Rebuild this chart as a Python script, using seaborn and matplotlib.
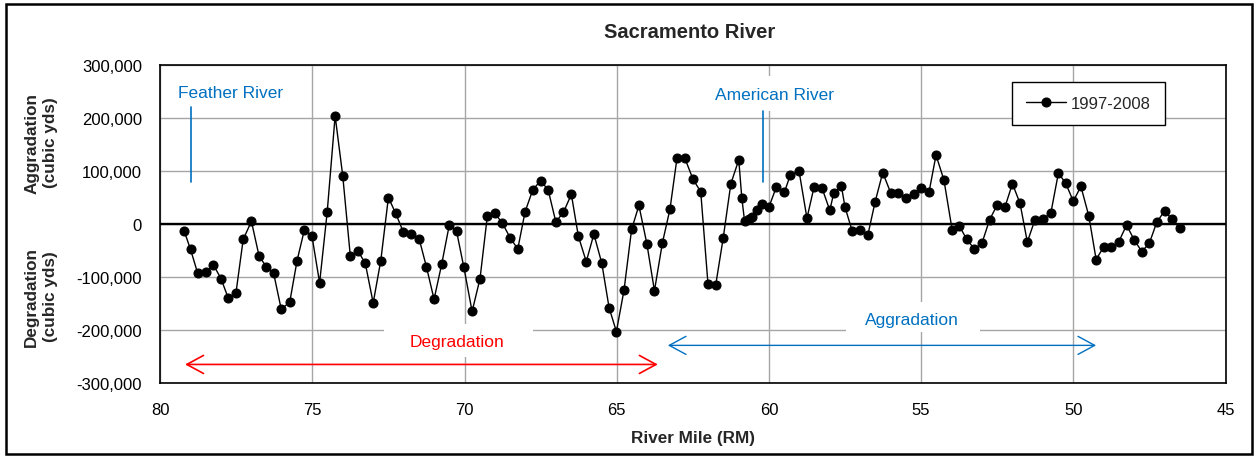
import matplotlib
matplotlib.use("Agg")
import matplotlib.pyplot as plt
from matplotlib.patches import Rectangle
from matplotlib.ticker import FuncFormatter
import numpy as np
import pandas as pd
import seaborn as sns

# River mile of each surveyed reach and its net volume change 1997-2008 (cubic yards)
river_mile = [
    79.21, 79.00, 78.77, 78.50, 78.25, 78.00, 77.76, 77.51, 77.27, 77.00,
    76.75, 76.51, 76.27, 76.02, 75.74, 75.50, 75.26, 75.01, 74.76, 74.51,
    74.25, 74.00, 73.75, 73.50, 73.26, 73.00, 72.75, 72.50, 72.26, 72.01,
    71.76, 71.49, 71.25, 71.00, 70.75, 70.50, 70.26, 70.02, 69.75, 69.49,
    69.25, 69.00, 68.76, 68.50, 68.25, 68.01, 67.76, 67.50, 67.25, 67.00,
    66.75, 66.49, 66.26, 66.00, 65.75, 65.49, 65.25, 65.01, 64.76, 64.51,
    64.27, 64.01, 63.76, 63.50, 63.25, 63.02, 62.76, 62.49, 62.24, 62.00,
    61.75, 61.50, 61.25, 60.99, 60.89, 60.80, 60.65, 60.54, 60.39, 60.24,
    60.00, 59.76, 59.49, 59.30, 59.01, 58.75, 58.52, 58.25, 58.00, 57.87,
    57.62, 57.50, 57.26, 57.01, 56.75, 56.51, 56.26, 56.00, 55.75, 55.51,
    55.24, 54.99, 54.74, 54.51, 54.25, 53.98, 53.74, 53.50, 53.25, 53.00,
    52.75, 52.50, 52.24, 52.00, 51.75, 51.51, 51.26, 51.00, 50.74, 50.49,
    50.25, 50.00, 49.75, 49.49, 49.25, 49.00, 48.75, 48.51, 48.25, 48.00,
    47.75, 47.50, 47.26, 47.00, 46.76, 46.50,
]
volume_change = [
    -13000, -48000, -92000, -91000, -77000, -103000, -140000, -131000, -29000, 5000,
    -60000, -81000, -93000, -161000, -147000, -69000, -11000, -23000, -111000, 23000,
    204000, 91000, -61000, -51000, -74000, -149000, -69000, 50000, 20000, -15000,
    -19000, -28000, -81000, -142000, -76000, -2000, -14000, -82000, -165000, -103000,
    15000, 20000, 2000, -26000, -47000, 23000, 64000, 82000, 64000, 4000,
    22000, 56000, -23000, -71000, -19000, -74000, -158000, -203000, -125000, -10000,
    35000, -37000, -126000, -36000, 28000, 124000, 124000, 84000, 61000, -114000,
    -116000, -26000, 76000, 121000, 49000, 6000, 9000, 13000, 27000, 37000,
    32000, 69000, 60000, 92000, 100000, 11000, 69000, 67000, 26000, 58000,
    72000, 32000, -14000, -12000, -21000, 42000, 97000, 59000, 59000, 49000,
    57000, 68000, 60000, 130000, 83000, -11000, -4000, -29000, -47000, -36000,
    8000, 36000, 33000, 76000, 39000, -34000, 8000, 10000, 20000, 96000,
    77000, 43000, 71000, 15000, -67000, -43000, -44000, -34000, -2000, -30000,
    -52000, -36000, 3000, 25000, 9000, -7000,
]
series_label = "1997-2008"

x_ticks = [80, 75, 70, 65, 60, 55, 50, 45]
y_ticks = [-300000, -200000, -100000, 0, 100000, 200000, 300000]

# Tributary confluences (river mile)
feather_rm = 79.0
american_rm = 60.2

BLUE = "#0070C0"
RED = "#FF0000"
GRID = "#A6A6A6"

sns.set_theme(style="white")
plt.rcParams["font.family"] = ["Liberation Sans", "DejaVu Sans"]

df = pd.DataFrame({"River Mile": river_mile, "Volume": volume_change})

W, H = 1257, 460
fig = plt.figure(figsize=(W / 100, H / 100), dpi=100)
ax = fig.add_axes([160.1 / W, 1 - 384 / H, (1225.5 - 160.1) / W, (384 - 66) / H])

ax.set_axisbelow(True)
ax.grid(True, color=GRID, linewidth=1.0)
ax.axhline(0, color="black", linewidth=1.7, zorder=1.5)

sns.lineplot(data=df, x="River Mile", y="Volume", ax=ax, sort=False,
             color="black", linewidth=1.0, marker="o", markersize=6.5,
             markeredgecolor="black", markerfacecolor="black",
             label=series_label, zorder=3)

ax.set_xlim(80, 45)
ax.set_ylim(-300000, 300000)
ax.set_xticks(x_ticks)
ax.set_yticks(y_ticks)
ax.yaxis.set_major_formatter(FuncFormatter(lambda v, p: f"{v:,.0f}"))
ax.tick_params(axis="x", direction="out", length=3, width=1, pad=11,
               labelsize=12, colors="black")
ax.tick_params(axis="y", direction="out", length=5, width=1, pad=8,
               labelsize=12, colors="black")
for sp in ax.spines.values():
    sp.set_color("black")
    sp.set_linewidth(1.2)

ax.set_xlabel("")
ax.set_ylabel("")

# White panels behind annotation text (they interrupt the gridlines)
for (x0, y0, x1, y1) in [(0.210, 0.082, 0.350, 0.186),
                         (0.644, 0.160, 0.770, 0.255),
                         (0.511, 0.855, 0.643, 0.965)]:
    ax.add_patch(Rectangle((x0, y0), x1 - x0, y1 - y0, transform=ax.transAxes,
                           facecolor="white", edgecolor="none", zorder=1))

ax.text(0.279, 0.132, "Degradation", transform=ax.transAxes, color=RED,
        fontsize=12.5, ha="center", va="center", zorder=2)
ax.text(0.706, 0.201, "Aggradation", transform=ax.transAxes, color=BLUE,
        fontsize=12.5, ha="center", va="center", zorder=2)
ax.text(0.066, 0.912, "Feather River", transform=ax.transAxes, color=BLUE,
        fontsize=12.5, ha="center", va="center", zorder=2)
ax.text(0.577, 0.906, "American River", transform=ax.transAxes, color=BLUE,
        fontsize=12.5, ha="center", va="center", zorder=2)

# Confluence markers
ax.plot([feather_rm, feather_rm], [79000, 220000], color=BLUE, linewidth=1.2, zorder=2)
ax.plot([american_rm, american_rm], [79000, 213000], color=BLUE, linewidth=1.2, zorder=2)

# Reach extent arrows
ax.annotate("", xy=(63.65, -265000), xytext=(79.18, -265000),
            arrowprops=dict(arrowstyle="<->,head_length=1.2,head_width=0.65",
                            color=RED, linewidth=1.2, mutation_scale=10,
                            shrinkA=0, shrinkB=0), zorder=2)
ax.annotate("", xy=(49.25, -229000), xytext=(63.32, -229000),
            arrowprops=dict(arrowstyle="<->,head_length=1.2,head_width=0.65",
                            color=BLUE, linewidth=1.0, mutation_scale=10,
                            shrinkA=0, shrinkB=0), zorder=2)

leg = ax.legend(loc="upper left", bbox_to_anchor=(1012 / W, 1 - 83 / H),
                bbox_transform=fig.transFigure, frameon=True, fancybox=False,
                framealpha=1, edgecolor="black", fontsize=12,
                handlelength=2.4, handletextpad=0.3, borderpad=0.85,
                borderaxespad=0)
leg.get_frame().set_linewidth(1.0)

fig.text(690 / W, 1 - 33 / H, "Sacramento River", fontsize=14.5,
         fontweight="bold", ha="center", va="center")
fig.text(693 / W, 1 - 438 / H, "River Mile (RM)", fontsize=12.3,
         fontweight="bold", ha="center", va="center")
fig.text(41 / W, 1 - 143 / H, "Aggradation\n(cubic yds)", fontsize=12.3,
         fontweight="bold", ha="center", va="center", rotation=90,
         linespacing=1.3)
fig.text(41 / W, 1 - 297 / H, "Degradation\n(cubic yds)", fontsize=12.3,
         fontweight="bold", ha="center", va="center", rotation=90,
         linespacing=1.3)

# Outer frame around the whole chart
fig.patches.append(Rectangle((6 / W, 5 / H), (1252 - 6) / W, (455 - 5) / H,
                             transform=fig.transFigure, fill=False,
                             edgecolor="black", linewidth=1.8))

fig.savefig("out.png", dpi=100, facecolor="white")
